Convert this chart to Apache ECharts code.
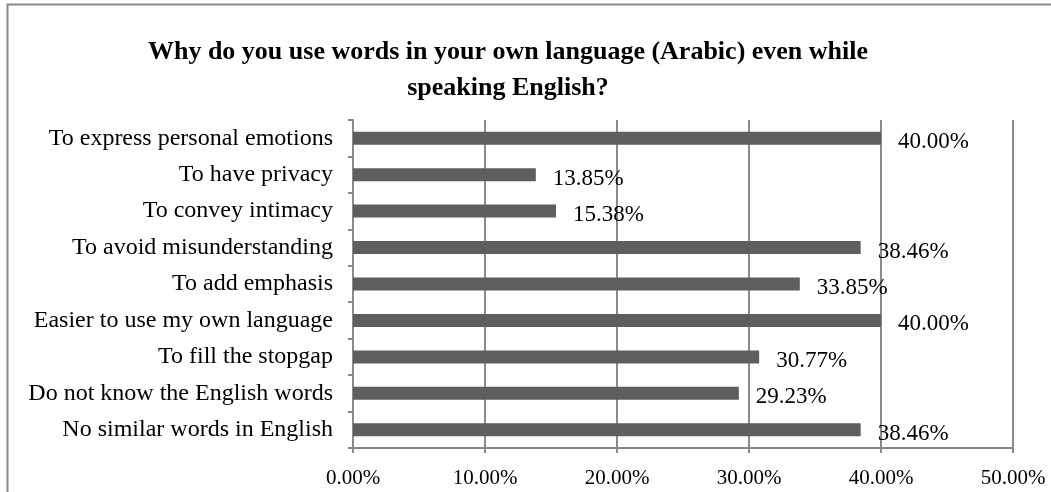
<!DOCTYPE html>
<html>
<head>
<meta charset="utf-8">
<script src="https://cdn.jsdelivr.net/npm/echarts@6/dist/echarts.min.js"></script>
<style>
html,body{margin:0;padding:0;background:#fff;}
#c{width:1051px;height:492px;}
</style>
</head>
<body>
<div id="c"></div>
<script>
const categories = [
  "To express personal emotions",
  "To have privacy",
  "To convey intimacy",
  "To avoid misunderstanding",
  "To add emphasis",
  "Easier to use my own language",
  "To fill the stopgap",
  "Do not know the English words",
  "No similar words in English"
];
const values = [40.00, 13.85, 15.38, 38.46, 33.85, 40.00, 30.77, 29.23, 38.46];
const titleLines = ["Why do you use words in your own language (Arabic) even while", "speaking English?"];

const FONT = '"Liberation Serif", "Times New Roman", serif';
const chart = echarts.init(document.getElementById('c'), null, {renderer: 'canvas'});
chart.setOption({
  animation: false,
  backgroundColor: '#ffffff',
  title: {
    text: titleLines.join('\n'),
    left: 503,
    top: 29,
    textAlign: 'center',
    textStyle: {fontFamily: FONT, fontWeight: 'bold', fontSize: 26, lineHeight: 36, color: '#000'}
  },
  graphic: [{
    type: 'rect',
    shape: {x: 7.5, y: 4.5, width: 1060, height: 520},
    style: {fill: 'none', stroke: '#8a8a8a', lineWidth: 2},
    silent: true
  }],
  grid: {left: 353, right: 38, top: 120, bottom: 44, containLabel: false},
  xAxis: {
    type: 'value',
    min: 0, max: 50, interval: 10,
    axisLine: {show: true, lineStyle: {color: '#8a8a8a', width: 2}},
    axisTick: {show: true, length: 5, lineStyle: {color: '#8a8a8a', width: 2}},
    splitLine: {show: true, lineStyle: {color: '#8a8a8a', width: 2}},
    axisLabel: {
      margin: 20, color: '#000', fontFamily: FONT, fontSize: 21,
      formatter: v => v.toFixed(2) + '%'
    }
  },
  yAxis: {
    type: 'category',
    data: categories,
    inverse: true,
    axisLine: {show: true, lineStyle: {color: '#8a8a8a', width: 2}},
    axisTick: {show: true, length: 5, lineStyle: {color: '#8a8a8a', width: 2}},
    axisLabel: {margin: 20, color: '#000', fontFamily: FONT, fontSize: 24},
    splitLine: {show: false}
  },
  series: [{
    type: 'bar',
    data: values,
    barWidth: 13,
    itemStyle: {color: '#5e5e5e'},
    label: {
      show: true,
      position: 'right',
      distance: 17,
      offset: [0, 4],
      color: '#000',
      fontFamily: FONT,
      fontSize: 23,
      formatter: p => p.value.toFixed(2) + '%'
    }
  }]
});
</script>
</body>
</html>
